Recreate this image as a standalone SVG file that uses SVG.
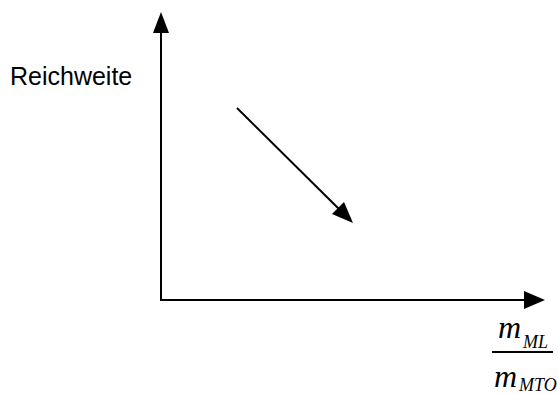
<svg xmlns="http://www.w3.org/2000/svg" width="558" height="394" viewBox="0 0 558 394">
<style>
.ln{stroke:#000;stroke-width:2;fill:none}
.ah{fill:#000}
.lbl{font-family:"Liberation Sans",Arial,sans-serif;font-size:25px;fill:#000}
.m{font-family:"Liberation Serif","Times New Roman",serif;font-style:italic;fill:#000}
</style>
<rect width="558" height="394" fill="#fff"/>
<g id="connectors">
<line class="ln" x1="161" y1="301" x2="161" y2="30"/>
<polygon class="ah" points="161,12 153,33 169,33"/>
<line class="ln" x1="160" y1="300" x2="527" y2="300"/>
<polygon class="ah" points="545,300 524,291 524,309"/>
<line class="ln" x1="237" y1="108" x2="340" y2="210"/>
<polygon class="ah" points="353,223 332,214 344,202"/>
</g>
<g id="ylabel">
<text class="lbl" x="10" y="85">Reichweite</text>
</g>
<g id="xlabel">
<text class="m" x="498" y="338" font-size="32">m</text>
<text class="m" x="523" y="348" font-size="18">ML</text>
<line class="ln" x1="492" y1="352" x2="553" y2="352" stroke-width="1.5"/>
<text class="m" x="494" y="387" font-size="32">m</text>
<text class="m" x="519" y="391" font-size="18">MTO</text>
</g>
</svg>
